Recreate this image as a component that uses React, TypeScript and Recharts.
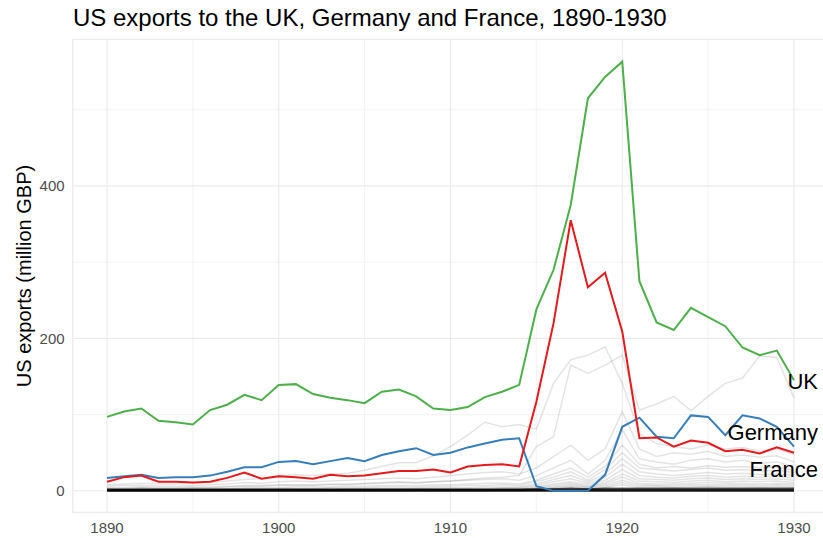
import React from 'react';
import { LineChart, Line, XAxis, YAxis, CartesianGrid, ReferenceLine } from 'recharts';

const years = [
  1890, 1891, 1892, 1893, 1894, 1895, 1896, 1897, 1898, 1899,
  1900, 1901, 1902, 1903, 1904, 1905, 1906, 1907, 1908, 1909,
  1910, 1911, 1912, 1913, 1914, 1915, 1916, 1917, 1918, 1919,
  1920, 1921, 1922, 1923, 1924, 1925, 1926, 1927, 1928, 1929, 1930,
];

const uk = [
  97, 104, 108, 92, 90, 87, 106, 113, 126, 119,
  139, 140, 127, 122, 119, 115, 130, 133, 124, 108,
  106, 110, 123, 130, 139, 238, 290, 375, 515, 543,
  563, 275, 221, 211, 240, 228, 216, 188, 178, 184, 145,
];

const germany = [
  17, 19, 21, 17, 18, 18, 20, 25, 31, 31,
  38, 39, 35, 39, 43, 39, 47, 52, 56, 47,
  50, 57, 62, 67, 69, 6, 0, 0, 0, 21,
  84, 96, 71, 69, 99, 97, 73, 99, 95, 84, 58,
];

const france = [
  12, 18, 20, 12, 12, 11, 12, 17, 24, 16,
  19, 18, 16, 21, 19, 20, 23, 26, 26, 28,
  24, 32, 34, 35, 32, 117, 220, 355, 267, 286,
  209, 69, 70, 58, 66, 63, 52, 54, 49, 57, 50,
];

// other destination countries, drawn faintly in the background
const others: number[][] = [
  [8, 9, 10, 9, 9, 10, 11, 13, 15, 16, 20, 21, 20, 22, 23, 27, 32, 37, 37, 46, 58, 73, 90, 84, 87, 81, 141, 172, 178, 189, 141, 75, 62, 58, 55, 60, 55, 57, 52, 55, 48],
  [3, 3, 4, 3, 3, 4, 4, 5, 6, 6, 7, 7, 7, 8, 8, 9, 10, 11, 10, 12, 13, 15, 17, 18, 20, 58, 71, 165, 154, 165, 178, 106, 114, 124, 105, 124, 141, 148, 177, 175, 122],
  [6, 7, 7, 6, 6, 7, 8, 9, 11, 10, 12, 13, 12, 13, 14, 15, 16, 17, 16, 18, 20, 22, 24, 25, 22, 30, 45, 60, 40, 55, 104, 55, 45, 50, 48, 52, 45, 47, 44, 46, 38],
  [4, 4, 5, 4, 4, 5, 5, 6, 7, 7, 8, 8, 8, 9, 9, 10, 11, 12, 11, 12, 13, 14, 15, 16, 14, 20, 30, 40, 22, 40, 80, 42, 38, 35, 40, 42, 38, 40, 36, 38, 32],
  [2, 2, 3, 2, 2, 3, 3, 3, 4, 4, 4, 5, 5, 5, 6, 6, 7, 7, 7, 8, 8, 9, 10, 10, 9, 14, 22, 30, 18, 32, 60, 35, 30, 32, 30, 33, 31, 32, 30, 31, 27],
  [1, 1, 2, 2, 2, 2, 2, 2, 3, 3, 3, 3, 3, 4, 4, 4, 5, 5, 5, 6, 6, 7, 7, 8, 7, 12, 18, 25, 14, 28, 50, 30, 28, 26, 28, 30, 27, 28, 26, 27, 24],
  [1, 1, 1, 1, 1, 1, 1, 2, 2, 2, 2, 2, 2, 2, 3, 3, 3, 3, 3, 4, 4, 4, 5, 5, 5, 9, 15, 20, 12, 22, 42, 25, 22, 20, 22, 24, 22, 23, 21, 22, 20],
  [1, 1, 1, 1, 1, 1, 1, 1, 1, 1, 2, 2, 2, 2, 2, 2, 2, 2, 3, 3, 3, 3, 3, 4, 4, 7, 12, 16, 10, 18, 35, 20, 18, 17, 19, 20, 18, 19, 18, 19, 17],
  [0, 0, 0, 0, 0, 1, 1, 1, 1, 1, 1, 1, 1, 1, 1, 1, 2, 2, 2, 2, 2, 2, 2, 3, 3, 5, 9, 12, 8, 14, 28, 16, 15, 14, 16, 17, 15, 16, 15, 16, 14],
  [0, 0, 0, 0, 0, 0, 0, 0, 0, 0, 1, 1, 1, 1, 1, 1, 1, 1, 1, 1, 1, 1, 1, 2, 2, 4, 7, 10, 6, 11, 22, 13, 12, 11, 13, 14, 12, 13, 12, 13, 11],
  [0, 0, 0, 0, 0, 0, 0, 0, 0, 0, 0, 0, 0, 0, 0, 0, 0, 0, 1, 1, 1, 1, 1, 1, 1, 3, 5, 8, 5, 9, 18, 10, 9, 9, 10, 11, 10, 10, 9, 10, 9],
  [0, 0, 0, 0, 0, 0, 0, 0, 0, 0, 0, 0, 0, 0, 0, 0, 0, 0, 0, 0, 0, 0, 0, 1, 1, 2, 4, 6, 4, 7, 14, 8, 7, 7, 8, 8, 8, 8, 7, 8, 7],
  [0, 0, 0, 0, 0, 0, 0, 0, 0, 0, 0, 0, 0, 0, 0, 0, 0, 0, 0, 0, 0, 0, 0, 0, 0, 1, 3, 5, 3, 5, 11, 6, 6, 5, 6, 6, 6, 6, 5, 6, 5],
  [0, 0, 0, 0, 0, 0, 0, 0, 0, 0, 0, 0, 0, 0, 0, 0, 0, 0, 0, 0, 0, 0, 0, 0, 0, 1, 2, 3, 2, 4, 8, 4, 4, 4, 4, 5, 4, 4, 4, 4, 4],
];

// the many tiny partners that pile up into the black band at zero
const tiny: number[][] = [
  [0, 0, 0, 0, 0, 0, 0, 0, 0, 0, 0, 0, 0, 0, 0, 0, 0, 0, 0, 0, 0, 0, 0, 0, 0, 0, 0, 0, 0, 0, 0, 0, 0, 0, 0, 0, 0, 0, 0, 0, 0],
  [0, 0, 0, 0, 0, 0, 0, 0, 0, 0, 0, 0, 0, 0, 0, 0, 0, 0, 0, 0, 0, 0, 0, 0, 0, 0, 0, 0, 0, 0, 0, 0, 0, 0, 0, 0, 0, 0, 0, 0, 0],
  [1, 1, 1, 1, 1, 1, 1, 1, 1, 1, 1, 1, 1, 1, 1, 1, 1, 1, 1, 1, 1, 1, 1, 1, 1, 1, 1, 1, 1, 1, 1, 1, 1, 1, 1, 1, 1, 1, 1, 1, 1],
  [1, 1, 1, 1, 1, 1, 1, 1, 1, 1, 1, 1, 1, 1, 1, 1, 1, 1, 1, 1, 1, 1, 1, 1, 1, 2, 2, 2, 2, 2, 2, 2, 2, 2, 2, 2, 2, 2, 2, 2, 2],
  [2, 2, 2, 2, 2, 2, 2, 2, 2, 2, 2, 2, 2, 2, 2, 2, 2, 2, 2, 2, 2, 2, 2, 2, 2, 2, 2, 3, 2, 3, 3, 3, 3, 3, 3, 3, 3, 3, 3, 3, 3],
];

const xTicks = [1890, 1900, 1910, 1920, 1930];
const xMinor = [1895, 1905, 1915, 1925];
const yTicks = [0, 200, 400];
const yMinor = [100, 300, 500];

const highlighted = [
  { key: 'uk', name: 'UK', values: uk, color: '#4DAF4A', dy: 9 },
  { key: 'germany', name: 'Germany', values: germany, color: '#377EB8', dy: -7 },
  { key: 'france', name: 'France', values: france, color: '#E41A1C', dy: 24 },
];

const rows = years.map((year, i) => {
  const row: Record<string, number> = { year };
  highlighted.forEach((s) => (row[s.key] = s.values[i]));
  others.forEach((s, j) => (row['o' + j] = s[i]));
  tiny.forEach((s, j) => (row['t' + j] = s[i]));
  return row;
});

const font = '"Liberation Sans", Arial, sans-serif';

export default function App() {
  const last = years.length - 1;
  return (
    <div style={{ width: 823, height: 538, overflow: 'hidden', position: 'relative', background: '#fff', fontFamily: font }}>
      <style>{'html,body{margin:0;padding:0;overflow:hidden;}'}</style>
      <div style={{ position: 'absolute', left: 73, top: 4, fontSize: 24, lineHeight: 'normal', color: '#000', whiteSpace: 'nowrap' }}>
        US exports to the UK, Germany and France, 1890-1930
      </div>
      <div
        style={{
          position: 'absolute', left: 24, top: 276, fontSize: 20, color: '#000', whiteSpace: 'nowrap',
          transform: 'translate(-50%, -50%) rotate(-90deg)',
        }}
      >
        US exports (million GBP)
      </div>
      <div style={{ position: 'absolute', left: 0, top: 0 }}>
        <LineChart width={832} height={538} data={rows} margin={{ top: 39.4, right: 3.65, bottom: 0, left: 0 }}>
          <CartesianGrid stroke="#ebebeb" strokeWidth={1.2} />
          {xMinor.map((x) => (
            <ReferenceLine key={'x' + x} x={x} stroke="#ebebeb" strokeWidth={0.6} />
          ))}
          {yMinor.map((y) => (
            <ReferenceLine key={'y' + y} y={y} stroke="#ebebeb" strokeWidth={0.6} />
          ))}
          <XAxis
            dataKey="year"
            type="number"
            domain={[1888, 1932]}
            ticks={xTicks}
            axisLine={false}
            tickLine={false}
            tickMargin={4}
            height={25.65}
            tick={{ fill: '#4d4d4d', fontSize: 15, fontFamily: font }}
          />
          <YAxis
            type="number"
            domain={[-28.2, 592.2]}
            ticks={yTicks}
            axisLine={false}
            tickLine={false}
            width={72.65}
            tick={{ fill: '#4d4d4d', fontSize: 15, fontFamily: font }}
          />
          {others.map((_, j) => (
            <Line key={'o' + j} dataKey={'o' + j} stroke="#000" strokeOpacity={0.11} strokeWidth={1.5} dot={false} isAnimationActive={false} />
          ))}
          {tiny.map((_, j) => (
            <Line key={'t' + j} dataKey={'t' + j} stroke="#000" strokeOpacity={0.55} strokeWidth={2} dot={false} isAnimationActive={false} />
          ))}
          {highlighted.map((s) => (
            <Line
              key={s.key}
              dataKey={s.key}
              stroke={s.color}
              strokeWidth={2}
              dot={false}
              isAnimationActive={false}
              label={(p: any) =>
                p.index === last ? (
                  <text key={s.key + 'lbl'} x={p.x + 24} y={p.y + s.dy} textAnchor="end" fontSize={22} fill="#000" fontFamily={font}>
                    {s.name}
                  </text>
                ) : (
                  <g key={s.key + p.index} />
                )
              }
            />
          ))}
        </LineChart>
      </div>
    </div>
  );
}
